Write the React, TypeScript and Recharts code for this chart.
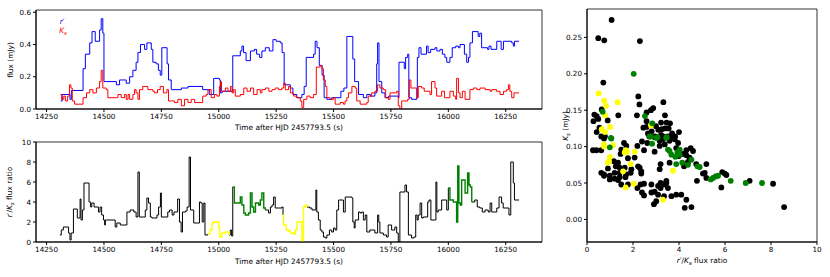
import { LineChart, Line, XAxis, YAxis, ScatterChart, Scatter, ReferenceArea } from "recharts";

const FONT = "'DejaVu Sans', sans-serif";

// [time (s), flux (mJy)] at each step change
const blueFlux: [number, number][] = [
  [14312, 0.05], [14318, 0.09], [14352, 0.06], [14358, 0.115], [14409, 0.25], [14419, 0.34],
  [14438, 0.41], [14448, 0.48], [14462, 0.42], [14481, 0.49], [14488, 0.56], [14495, 0.47],
  [14500, 0.17], [14554, 0.15], [14568, 0.18], [14597, 0.16], [14612, 0.2], [14626, 0.24],
  [14640, 0.29], [14648, 0.35], [14659, 0.4], [14677, 0.37], [14687, 0.41], [14706, 0.37],
  [14713, 0.29], [14727, 0.28], [14737, 0.24], [14745, 0.21], [14752, 0.38], [14775, 0.28],
  [14781, 0.18], [14793, 0.12], [14837, 0.13], [14866, 0.14], [14930, 0.12], [14959, 0.09],
  [14978, 0.19], [15003, 0.18], [15007, 0.1], [15015, 0.11], [15061, 0.33], [15094, 0.36],
  [15101, 0.39], [15108, 0.35], [15119, 0.3], [15138, 0.36], [15155, 0.37], [15165, 0.34],
  [15178, 0.32], [15188, 0.36], [15203, 0.38], [15220, 0.36], [15236, 0.43], [15250, 0.42],
  [15268, 0.41], [15276, 0.35], [15285, 0.15], [15312, 0.13], [15323, 0.09], [15340, 0.07],
  [15362, 0.09], [15372, 0.14], [15381, 0.32], [15413, 0.34], [15420, 0.42], [15428, 0.38],
  [15438, 0.27], [15450, 0.21], [15459, 0.07], [15471, 0.06], [15492, 0.07], [15532, 0.11],
  [15545, 0.13], [15558, 0.45], [15584, 0.31], [15592, 0.17], [15609, 0.09], [15630, 0.07],
  [15645, 0.09], [15660, 0.08], [15680, 0.1], [15688, 0.28], [15692, 0.41], [15698, 0.17],
  [15710, 0.1], [15724, 0.07], [15740, 0.08], [15782, 0.07], [15785, 0.29], [15808, 0.25],
  [15814, 0.32], [15823, 0.34], [15828, 0.07], [15840, 0.06], [15862, 0.07], [15865, 0.32],
  [15872, 0.38], [15881, 0.34], [15905, 0.39], [15912, 0.35], [15923, 0.37], [15942, 0.38],
  [15950, 0.36], [15964, 0.37], [15974, 0.34], [15985, 0.32], [15993, 0.29], [16007, 0.32],
  [16017, 0.38], [16032, 0.39], [16044, 0.38], [16051, 0.4], [16070, 0.34], [16080, 0.29],
  [16088, 0.32], [16094, 0.41], [16105, 0.48], [16130, 0.45], [16137, 0.47], [16145, 0.38],
  [16171, 0.37], [16177, 0.39], [16186, 0.37], [16211, 0.42], [16230, 0.37], [16240, 0.42],
  [16276, 0.41], [16283, 0.39], [16288, 0.42], [16308, 0.42],
];

const redFlux: [number, number][] = [
  [14310, 0.09], [14316, 0.06], [14325, 0.08], [14332, 0.05], [14342, 0.08], [14350, 0.15],
  [14356, 0.13], [14362, 0.05], [14372, 0.03], [14409, 0.07], [14424, 0.1], [14438, 0.12],
  [14452, 0.1], [14467, 0.13], [14481, 0.17], [14488, 0.24], [14495, 0.13], [14510, 0.12],
  [14517, 0.07], [14554, 0.07], [14561, 0.09], [14575, 0.07], [14590, 0.09], [14597, 0.06],
  [14605, 0.09], [14612, 0.06], [14626, 0.09], [14633, 0.12], [14640, 0.1], [14648, 0.06],
  [14655, 0.12], [14669, 0.14], [14691, 0.12], [14713, 0.11], [14720, 0.1], [14733, 0.12],
  [14745, 0.14], [14759, 0.1], [14774, 0.12], [14781, 0.05], [14807, 0.04], [14822, 0.06],
  [14837, 0.02], [14851, 0.06], [14866, 0.04], [14880, 0.06], [14895, 0.04], [14930, 0.08],
  [14945, 0.09], [14953, 0.12], [14967, 0.07], [14981, 0.09], [14992, 0.08], [15003, 0.14],
  [15007, 0.17], [15012, 0.11], [15029, 0.13], [15040, 0.11], [15051, 0.14], [15058, 0.1],
  [15065, 0.12], [15072, 0.08], [15094, 0.09], [15109, 0.13], [15123, 0.11], [15138, 0.13],
  [15152, 0.09], [15167, 0.12], [15181, 0.1], [15188, 0.12], [15203, 0.13], [15218, 0.11],
  [15232, 0.12], [15246, 0.13], [15261, 0.12], [15275, 0.13], [15283, 0.16], [15290, 0.12],
  [15304, 0.14], [15312, 0.1], [15326, 0.08], [15340, 0.07], [15355, 0.05], [15362, 0.01],
  [15370, 0.06], [15384, 0.08], [15398, 0.07], [15413, 0.09], [15425, 0.26], [15442, 0.27],
  [15449, 0.25], [15456, 0.18], [15464, 0.14], [15471, 0.07], [15485, 0.06], [15500, 0.07],
  [15507, 0.03], [15529, 0.04], [15543, 0.03], [15550, 0.05], [15558, 0.07], [15565, 0.1],
  [15580, 0.14], [15594, 0.13], [15601, 0.05], [15616, 0.03], [15645, 0.04], [15651, 0.08],
  [15666, 0.1], [15680, 0.11], [15692, 0.15], [15702, 0.13], [15717, 0.12], [15727, 0.07],
  [15738, 0.06], [15746, 0.1], [15775, 0.11], [15782, 0.02], [15789, 0.0], [15797, 0.05],
  [15823, 0.06], [15830, 0.18], [15837, 0.13], [15855, 0.13], [15862, 0.07], [15869, 0.14],
  [15884, 0.13], [15895, 0.11], [15920, 0.09], [15927, 0.17], [15942, 0.13], [15949, 0.08],
  [15971, 0.11], [15983, 0.07], [16007, 0.11], [16022, 0.08], [16032, 0.06], [16036, 0.19],
  [16044, 0.1], [16051, 0.07], [16061, 0.11], [16073, 0.06], [16094, 0.12], [16109, 0.13],
  [16124, 0.12], [16138, 0.13], [16160, 0.12], [16182, 0.11], [16189, 0.12], [16210, 0.11],
  [16225, 0.09], [16240, 0.11], [16254, 0.12], [16262, 0.15], [16268, 0.11], [16276, 0.07],
  [16286, 0.1], [16308, 0.1],
];

// [time (s), r'/Ks ratio]
const fluxRatio: [number, number][] = [
  [14308, 0.7], [14314, 1.2], [14323, 1.5], [14346, 0.9], [14352, 0.2], [14357, 0.9],
  [14367, 3.3], [14384, 2.4], [14396, 4.3], [14400, 2.2], [14406, 3.2], [14413, 5.9],
  [14435, 4.0], [14442, 3.5], [14447, 3.9], [14457, 3.5], [14476, 3.0], [14483, 3.5],
  [14490, 2.7], [14498, 2.2], [14503, 1.7], [14506, 2.2], [14549, 1.5], [14556, 1.9],
  [14571, 1.7], [14600, 3.0], [14614, 3.2], [14630, 3.0], [14640, 2.5], [14648, 7.0],
  [14654, 2.5], [14680, 3.2], [14687, 4.4], [14694, 3.9], [14702, 2.5], [14709, 2.4],
  [14731, 2.7], [14738, 3.5], [14746, 4.9], [14750, 2.5], [14778, 3.0], [14786, 3.2],
  [14797, 2.7], [14805, 3.0], [14821, 4.3], [14829, 2.0], [14836, 1.0], [14842, 3.0],
  [14855, 3.1], [14862, 3.5], [14871, 8.5], [14877, 3.2], [14891, 1.9], [14916, 4.0],
  [14922, 3.9], [14928, 2.0], [14935, 3.9], [14940, 0.7],
  [14952, 0.8], [14962, 1.2], [14971, 1.9], [14978, 2.0], [15000, 1.5], [15004, 0.5],
  [15014, 0.9], [15029, 1.0],
  [15045, 0.7], [15050, 1.2], [15056, 0.6],
  [15061, 5.5], [15068, 3.9], [15094, 4.5], [15101, 3.7], [15109, 2.9], [15116, 2.7],
  [15130, 2.9], [15138, 4.9], [15145, 3.5], [15152, 3.0], [15160, 3.9], [15174, 3.7],
  [15181, 4.2], [15188, 4.9], [15196, 3.4],
  [15203, 3.2], [15217, 2.9], [15225, 3.5], [15232, 3.7], [15239, 4.5], [15246, 3.4],
  [15275, 3.5],
  [15280, 2.7], [15283, 1.7], [15294, 1.2], [15304, 1.1], [15312, 0.9], [15326, 0.8],
  [15333, 1.2], [15341, 2.0], [15362, 0.0], [15369, 3.5], [15377, 3.7],
  [15384, 3.5], [15395, 3.4], [15406, 3.2], [15423, 5.2], [15427, 3.0], [15434, 2.2],
  [15442, 1.2], [15449, 1.0], [15456, 0.5], [15464, 0.4], [15471, 0.7], [15482, 1.2],
  [15492, 1.0], [15500, 1.4], [15507, 1.2], [15514, 3.2], [15522, 4.2], [15543, 3.0],
  [15551, 4.5], [15580, 4.4], [15584, 2.0], [15590, 1.4], [15594, 2.2], [15609, 3.0],
  [15616, 2.9], [15623, 3.0], [15630, 2.2], [15638, 2.7], [15645, 1.0], [15658, 1.2],
  [15680, 0.9], [15692, 2.7], [15697, 2.0], [15702, 0.9], [15717, 0.7], [15731, 0.5],
  [15738, 1.7], [15753, 1.2], [15767, 1.5], [15775, 0.9], [15782, 0.0], [15789, 5.0],
  [15811, 5.7], [15818, 5.0], [15826, 0.7], [15840, 0.4], [15850, 0.5], [15858, 2.7],
  [15864, 2.2], [15869, 2.7], [15877, 3.9], [15884, 2.4], [15891, 2.5], [15910, 4.0],
  [15916, 4.2], [15924, 2.2], [15946, 6.0], [15950, 3.0], [15956, 3.2], [15971, 4.2],
  [15993, 3.2],
  [16000, 5.4], [16007, 4.2], [16022, 4.0], [16036, 2.0], [16041, 7.6], [16046, 3.9],
  [16052, 3.7], [16058, 6.2], [16073, 4.9], [16084, 6.9], [16090, 5.7], [16096, 5.5],
  [16102, 4.0], [16115, 4.2], [16126, 3.5], [16137, 3.4], [16148, 3.0], [16160, 3.2],
  [16174, 3.0], [16182, 3.9], [16189, 3.0], [16211, 3.4], [16221, 4.5], [16232, 3.9],
  [16239, 3.4], [16264, 2.7], [16272, 8.0], [16283, 5.9], [16288, 4.2], [16308, 4.2],
];

const yellowSpans: [number, number][] = [[14952, 15045], [15280, 15384]];
const greenSpans: [number, number][] = [[15061, 15203], [16000, 16102]];

// [r'/Ks ratio, Ks flux (mJy)]
const blackPts: [number, number][] = [
  [1.07, 0.274], [0.49, 0.249], [0.75, 0.246], [2.3, 0.245], [0.71, 0.188], [2.23, 0.169],
  [2.28, 0.158], [3.32, 0.161], [0.64, 0.151], [0.32, 0.144], [0.42, 0.142], [1.36, 0.143],
  [2.17, 0.143], [2.59, 0.147], [2.78, 0.15], [2.88, 0.153], [3.39, 0.143], [0.49, 0.138],
  [0.9, 0.136], [0.28, 0.135], [2.59, 0.135], [3.22, 0.133], [3.46, 0.133], [3.61, 0.132],
  [2.45, 0.126], [2.59, 0.127], [0.54, 0.126], [0.42, 0.12], [2.81, 0.121], [3.1, 0.123],
  [3.25, 0.124], [3.39, 0.125], [4.0, 0.12], [2.71, 0.114], [2.96, 0.114], [3.22, 0.116],
  [3.32, 0.114], [3.51, 0.114], [0.78, 0.114], [3.83, 0.114], [3.55, 0.125], [3.7, 0.118],
  [3.0, 0.128], [2.65, 0.118], [0.62, 0.114], [0.74, 0.111], [2.94, 0.113], [3.67, 0.114],
  [3.16, 0.108], [3.3, 0.11], [3.59, 0.108], [3.81, 0.11], [3.96, 0.105], [2.39, 0.107],
  [2.62, 0.105], [2.19, 0.101], [1.61, 0.105], [1.71, 0.101], [0.62, 0.095], [0.41, 0.095],
  [0.26, 0.095], [1.49, 0.096], [2.48, 0.095], [2.94, 0.093], [3.88, 0.098], [4.51, 0.098],
  [4.32, 0.095], [3.16, 0.101], [3.38, 0.103], [1.46, 0.09], [4.17, 0.09], [4.61, 0.094],
  [3.99, 0.087], [4.32, 0.088], [4.46, 0.085], [2.07, 0.085], [1.78, 0.084], [1.17, 0.08],
  [1.35, 0.078], [3.59, 0.078], [4.22, 0.073], [4.39, 0.079], [4.75, 0.076], [5.19, 0.076],
  [2.22, 0.073], [3.2, 0.076], [1.25, 0.073], [1.42, 0.071], [1.64, 0.071], [1.93, 0.069],
  [2.29, 0.071], [0.91, 0.07], [3.16, 0.069], [5.12, 0.064], [2.36, 0.066], [0.62, 0.064],
  [0.74, 0.062], [1.2, 0.064], [1.42, 0.064], [1.9, 0.064], [1.71, 0.062], [2.36, 0.063],
  [5.88, 0.065], [5.99, 0.063], [6.06, 0.061], [0.74, 0.06], [0.99, 0.06], [1.42, 0.058],
  [1.2, 0.056], [1.35, 0.054], [1.67, 0.058], [5.04, 0.063], [5.19, 0.057], [7.07, 0.053],
  [8.09, 0.049], [8.57, 0.017], [5.84, 0.044], [4.78, 0.053], [0.99, 0.055], [1.49, 0.048],
  [1.78, 0.048], [2.33, 0.048], [2.48, 0.049], [2.8, 0.048], [3.2, 0.05], [3.35, 0.048],
  [3.45, 0.05], [3.09, 0.046], [3.2, 0.043], [3.45, 0.053], [3.52, 0.043], [2.19, 0.043],
  [2.39, 0.037], [2.48, 0.033], [2.8, 0.037], [2.94, 0.038], [3.09, 0.034], [3.35, 0.032],
  [3.67, 0.032], [3.88, 0.034], [4.1, 0.034], [4.32, 0.027], [3.01, 0.025], [2.91, 0.021],
  [4.25, 0.016], [4.54, 0.017],
];

const yellowPts: [number, number][] = [
  [0.51, 0.173], [0.75, 0.163], [1.33, 0.161], [0.83, 0.156], [0.78, 0.143], [2.78, 0.129],
  [1.0, 0.127], [0.64, 0.124], [0.78, 0.12], [0.74, 0.103], [1.13, 0.102], [0.74, 0.1],
  [1.68, 0.095], [2.07, 0.093], [1.64, 0.092], [1.74, 0.093], [0.99, 0.086], [0.96, 0.08],
  [0.91, 0.078], [1.9, 0.076], [1.57, 0.066], [3.74, 0.067], [1.68, 0.044], [2.03, 0.049],
  [3.3, 0.027],
];

const greenPts: [number, number][] = [
  [2.03, 0.2], [0.68, 0.148], [2.52, 0.142], [2.84, 0.132], [2.78, 0.114], [3.07, 0.113],
  [3.46, 0.113], [1.04, 0.112], [1.06, 0.111], [2.72, 0.114], [3.01, 0.112], [3.45, 0.112],
  [2.83, 0.104], [0.99, 0.099], [3.52, 0.096], [3.59, 0.094], [4.03, 0.096], [3.93, 0.092],
  [4.03, 0.089], [3.67, 0.089], [3.84, 0.086], [4.54, 0.082], [3.88, 0.076], [4.14, 0.078],
  [4.39, 0.075], [4.8, 0.073], [4.9, 0.072], [5.7, 0.06], [5.59, 0.059], [5.48, 0.057],
  [5.38, 0.055], [6.25, 0.053], [6.9, 0.05], [7.61, 0.05],
];

const timeTicks = [14250, 14500, 14750, 15000, 15250, 15500, 15750, 16000, 16250];
const fluxTicks = [0, 0.2, 0.4, 0.6];
const ratioTicks = [0, 2, 4, 6, 8, 10];
const ksTicks = [0, 0.05, 0.1, 0.15, 0.2, 0.25];

const T_DOMAIN: [number, number] = [14204, 16408];
const tick = { fontSize: 7.2, fill: "#000", fontFamily: FONT };

const inSpan = (t: number, spans: [number, number][]) => spans.some(([a, b]) => t >= a && t <= b);
const inside = (t: number, spans: [number, number][]) => spans.some(([a, b]) => t > a && t < b);

const ratioRows = fluxRatio.map(([t, v]) => ({
  t,
  black: inside(t, yellowSpans) || inside(t, greenSpans) ? null : v,
  yellow: inSpan(t, yellowSpans) ? v : null,
  green: inSpan(t, greenSpans) ? v : null,
}));

const toRows = (pts: [number, number][]) => pts.map(([t, v]) => ({ t, v }));
const toXY = (pts: [number, number][]) => pts.map(([x, y]) => ({ x, y }));

const dotShape = (color: string) => (p: any) => <circle cx={p.cx} cy={p.cy} r={2.9} fill={color} />;

const label = (left: number, top: number, rotate = false): React.CSSProperties => ({
  position: "absolute",
  left,
  top,
  transform: `translate(-50%, -50%)${rotate ? " rotate(-90deg)" : ""}`,
  whiteSpace: "nowrap",
  fontFamily: FONT,
  fontSize: 7.4,
  color: "#000",
});

const ratioText = (
  <>
    <i>r′</i>/<i>K</i>
    <sub style={{ fontSize: 5.5, fontStyle: "italic" }}>s</sub> flux ratio
  </>
);

export default function App() {
  return (
    <div style={{ position: "absolute", left: 0, top: 0, width: 830, height: 277, background: "#fff" }}>
      <div style={{ position: "absolute", left: 0, top: 0 }}>
        <LineChart width={550} height={140} margin={{ top: 10, right: 8, left: 0, bottom: 0 }}>
          <XAxis type="number" dataKey="t" domain={T_DOMAIN} ticks={timeTicks} allowDataOverflow
            tickSize={3} height={31} tick={tick} stroke="#000" />
          <YAxis type="number" dataKey="v" domain={[0, 0.614]} ticks={fluxTicks} allowDataOverflow
            tickSize={3} width={36} tick={tick} stroke="#000" tickFormatter={(v: number) => v.toFixed(1)} />
          <ReferenceArea x1={T_DOMAIN[0]} x2={T_DOMAIN[1]} y1={0} y2={0.614} fill="none" stroke="#000" strokeWidth={0.8} />
          <Line data={toRows(blueFlux)} dataKey="v" type="stepAfter" stroke="#0000ff" strokeWidth={1} dot={false} isAnimationActive={false} />
          <Line data={toRows(redFlux)} dataKey="v" type="stepAfter" stroke="#ff0000" strokeWidth={1} dot={false} isAnimationActive={false} />
        </LineChart>
      </div>

      <div style={{ position: "absolute", left: 0, top: 132 }}>
        <LineChart width={550} height={145} data={ratioRows} margin={{ top: 10, right: 8, left: 0, bottom: 0 }}>
          <XAxis type="number" dataKey="t" domain={T_DOMAIN} ticks={timeTicks} allowDataOverflow
            tickSize={3} height={35} tick={tick} stroke="#000" />
          <YAxis type="number" domain={[0, 10]} ticks={ratioTicks} allowDataOverflow
            tickSize={3} width={36} tick={tick} stroke="#000" />
          <ReferenceArea x1={T_DOMAIN[0]} x2={T_DOMAIN[1]} y1={0} y2={10} fill="none" stroke="#000" strokeWidth={0.8} />
          <Line dataKey="black" type="stepAfter" stroke="#000" strokeWidth={1} dot={false} isAnimationActive={false} />
          <Line dataKey="yellow" type="stepAfter" stroke="#ffff00" strokeWidth={1.4} dot={false} isAnimationActive={false} />
          <Line dataKey="green" type="stepAfter" stroke="#008000" strokeWidth={1.4} dot={false} isAnimationActive={false} />
        </LineChart>
      </div>

      <div style={{ position: "absolute", left: 555, top: 0 }}>
        <ScatterChart width={270} height={277} margin={{ top: 9, right: 8, left: 0, bottom: 0 }}>
          <XAxis type="number" dataKey="x" domain={[0, 10]} ticks={ratioTicks} allowDataOverflow
            tickSize={3} height={35} tick={tick} stroke="#000" />
          <YAxis type="number" dataKey="y" domain={[-0.031, 0.289]} ticks={ksTicks} allowDataOverflow
            tickSize={3} width={32} tick={tick} stroke="#000" tickFormatter={(v: number) => v.toFixed(2)} />
          <ReferenceArea x1={0} x2={10} y1={-0.031} y2={0.289} fill="none" stroke="#000" strokeWidth={0.8} />
          <Scatter data={toXY(blackPts)} shape={dotShape("#000000")} isAnimationActive={false} />
          <Scatter data={toXY(yellowPts)} shape={dotShape("#ffff00")} isAnimationActive={false} />
          <Scatter data={toXY(greenPts)} shape={dotShape("#008000")} isAnimationActive={false} />
        </ScatterChart>
      </div>

      <div style={{ ...label(62, 21), color: "#0000ff" }}><i>r′</i></div>
      <div style={{ ...label(63, 31), color: "#ff0000" }}>
        <i>K</i><sub style={{ fontSize: 5.5, fontStyle: "italic" }}>s</sub>
      </div>

      <div style={label(10, 60, true)}>flux (mJy)</div>
      <div style={label(289, 127)}>Time after HJD 2457793.5 (s)</div>
      <div style={label(10, 192, true)}>{ratioText}</div>
      <div style={label(289, 261)}>Time after HJD 2457793.5 (s)</div>
      <div style={label(566, 126, true)}>
        <i>K</i><sub style={{ fontSize: 5.5, fontStyle: "italic" }}>s</sub> (mJy)
      </div>
      <div style={label(702, 261)}>{ratioText}</div>
    </div>
  );
}
